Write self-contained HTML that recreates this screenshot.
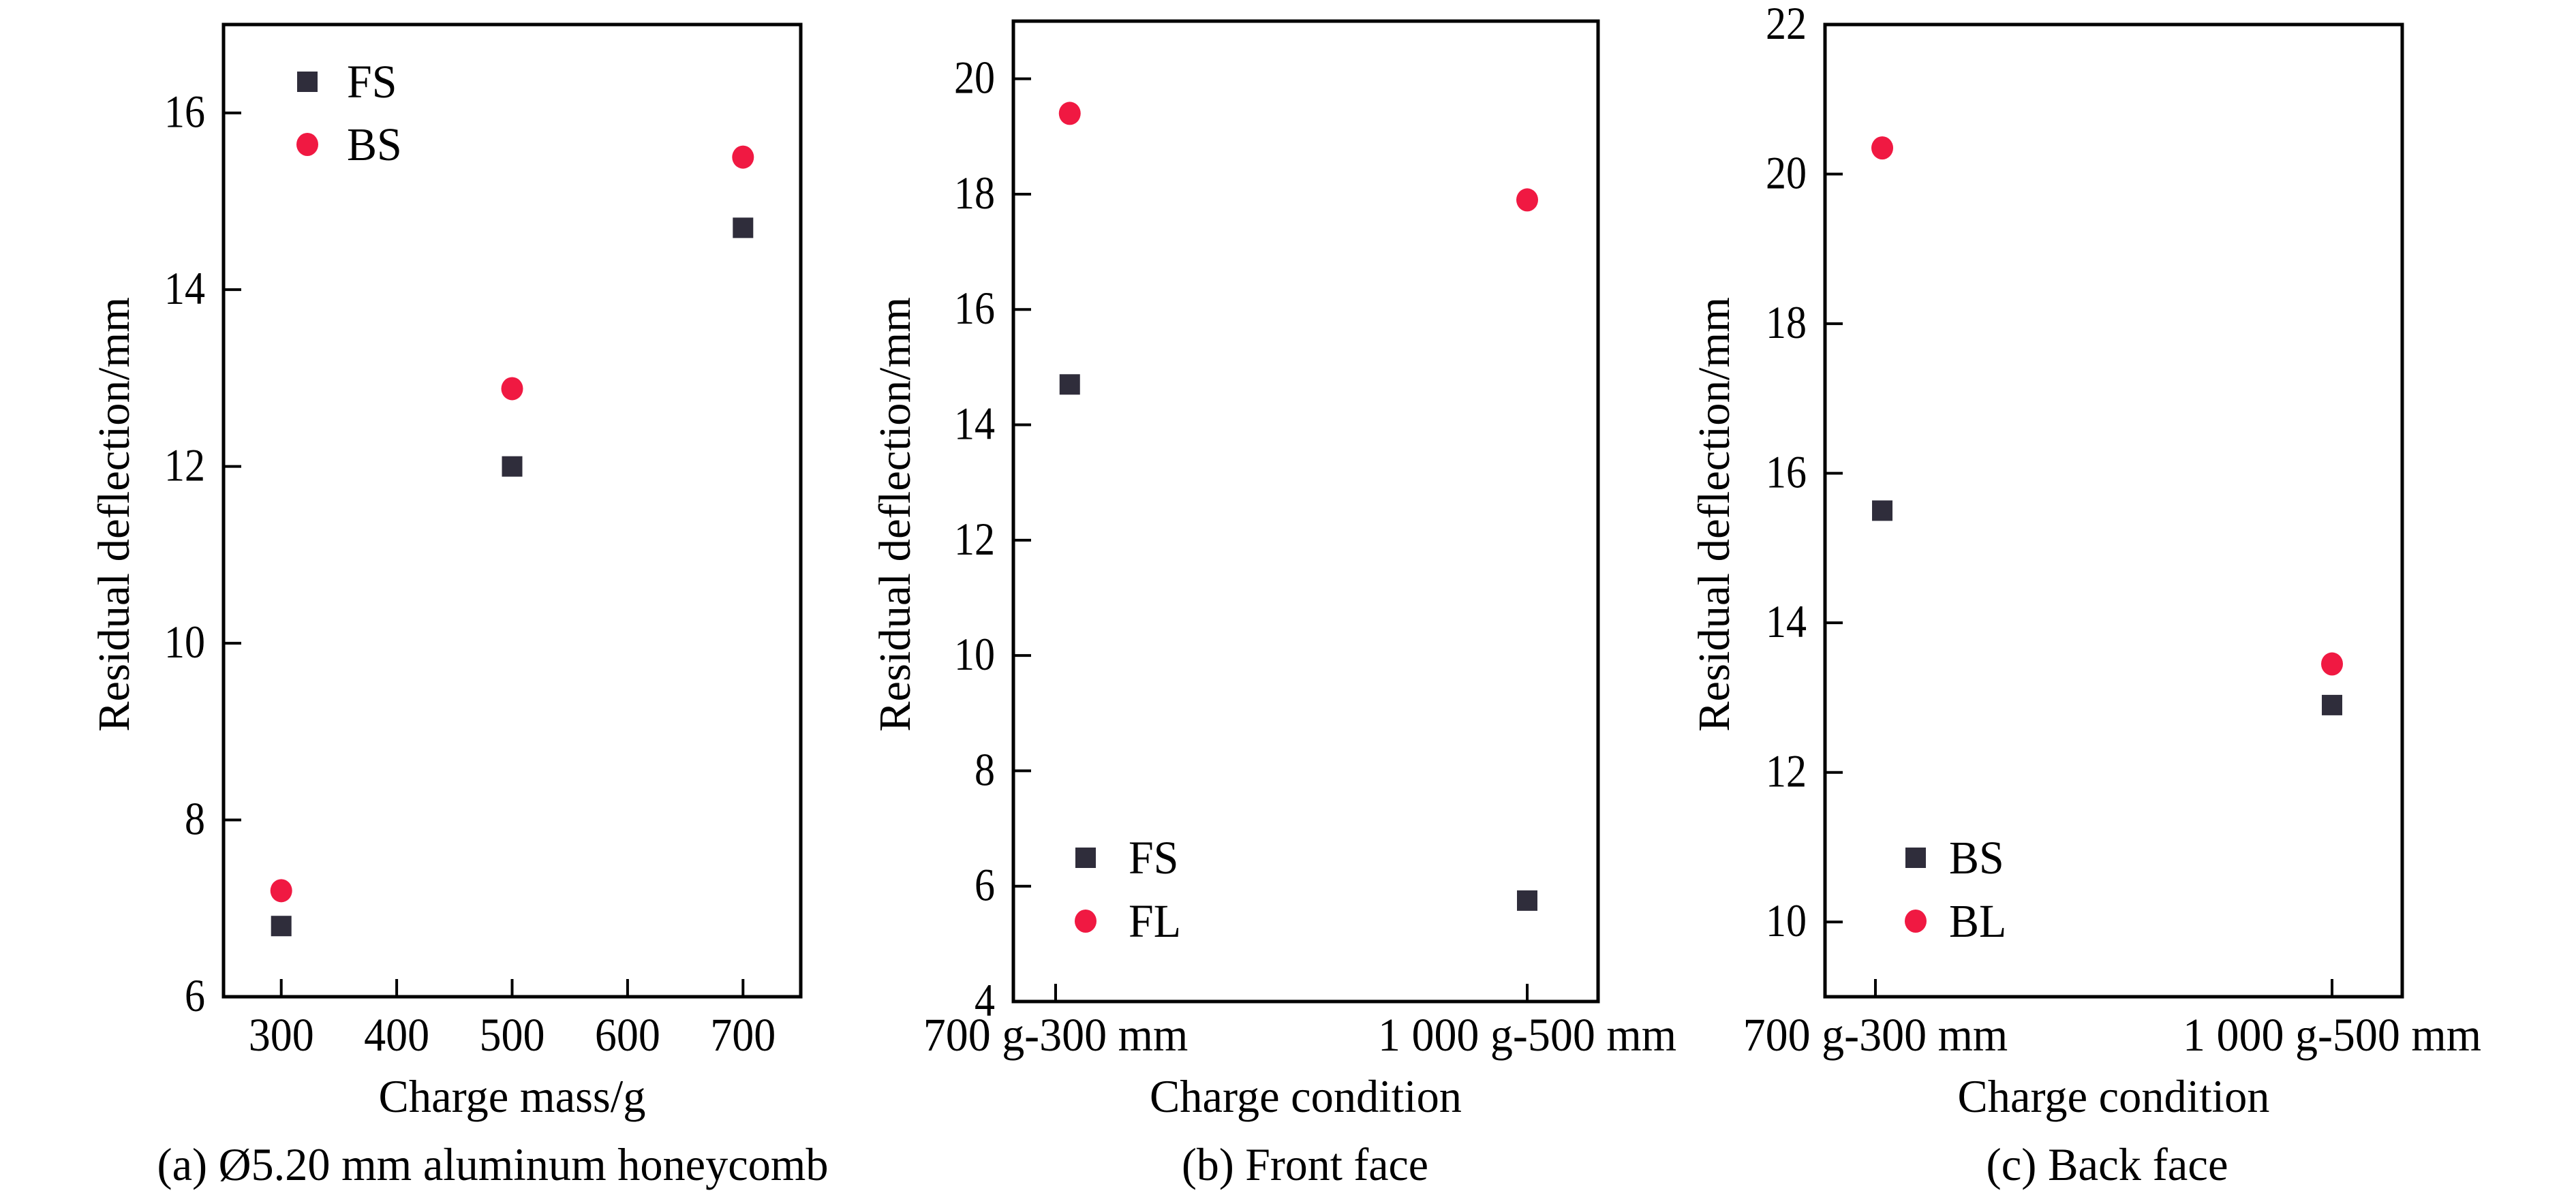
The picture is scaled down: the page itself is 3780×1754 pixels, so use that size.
<!DOCTYPE html>
<html><head><meta charset="utf-8"><style>
html,body{margin:0;padding:0;background:#fff;}
svg{display:block;}
svg text{font-family:"Liberation Serif","Times New Roman","Noto Serif CJK SC","DejaVu Serif",serif;}
</style></head><body>
<svg id="fig" width="3780" height="1754" viewBox="0 0 3780 1754" xmlns="http://www.w3.org/2000/svg"></svg>
<script>
// ---- Panel (a) data ----
const aX = [300, 500, 700];
const aFS = [6.8, 12.0, 14.7];
const aBS = [7.2, 12.88, 15.5];
const aXTicks = [300, 400, 500, 600, 700];
const aYTicks = [6, 8, 10, 12, 14, 16];
// ---- Panel (b) data ----
const bCats = ["700 g-300 mm", "1 000 g-500 mm"];
const bXPos = [0.03, 1];
const bFS = [14.7, 5.75];
const bFL = [19.4, 17.9];
const bYTicks = [4, 6, 8, 10, 12, 14, 16, 18, 20];
// ---- Panel (c) data ----
const cCats = ["700 g-300 mm", "1 000 g-500 mm"];
const cXPos = [0.015, 1];
const cBS = [15.5, 12.9];
const cBL = [20.35, 13.45];
const cYTicks = [10, 12, 14, 16, 18, 20, 22];

const NS = "http://www.w3.org/2000/svg";
const svg = document.getElementById("fig");
const SQ = "#2f2d3b", CI = "#f01942";
const FONT = '"Liberation Serif", "Times New Roman", "Noto Serif CJK SC", "DejaVu Serif", serif';

function mk(tag, attrs, parent) {
  const e = document.createElementNS(NS, tag);
  for (const k in attrs) e.setAttribute(k, attrs[k]);
  (parent || svg).appendChild(e);
  return e;
}
function txt(s, x, y, size, anchor, sy, parent, len) {
  const g = mk("g", {transform: "translate(" + x + "," + y + ") scale(1," + sy + ")"}, parent);
  const t = mk("text", {x: 0, y: 0, "font-size": size, "text-anchor": anchor, fill: "#000", "font-family": FONT}, g);
  if (len) { t.setAttribute("textLength", len); t.setAttribute("lengthAdjust", "spacingAndGlyphs"); }
  t.textContent = s;
  return {g: g, t: t};
}

function panel(cfg) {
  const g = mk("g", {});
  
  
  const xs = v => cfg.L + (v - cfg.x0) / (cfg.x1 - cfg.x0) * (cfg.R - cfg.L);
  const ys = v => cfg.B - (v - cfg.y0) / (cfg.y1 - cfg.y0) * (cfg.B - cfg.T);
  const fr = mk("rect", {x: cfg.L, y: cfg.T, width: cfg.R - cfg.L, height: cfg.B - cfg.T, fill: "none", stroke: "#000", "stroke-width": 5}, g);
  
  
  cfg.yTicks.forEach(v => {
    const y = ys(v);
    const l = mk("line", {x1: cfg.L, x2: cfg.L + 26, y1: y, y2: y, stroke: "#000", "stroke-width": 4}, g);
    
    
    const s = String(v);
    const t = txt(s, cfg.L - 27, y + 21, 63, "end", 1.08, g, s.length * 30);
    
    
  });
  cfg.xTicks.forEach((v, i) => {
    const x = xs(v);
    const l = mk("line", {x1: x, x2: x, y1: cfg.B, y2: cfg.B - 26, stroke: "#000", "stroke-width": 4}, g);
    
    
    const t = txt(cfg.xLabels[i], x, 1542, 66, "middle", 1.05, g, cfg.xLabelLen);
    
    
  });
  const xt = txt(cfg.xTitle, (cfg.L + cfg.R) / 2, 1632, 66, "middle", 1.03, g, cfg.xTitleLen);
  
  
  const cap = txt(cfg.caption, cfg.capX, 1732, 66, "middle", 1.03, g, cfg.capLen);
  
  
  const yt = mk("text", {x: 0, y: 0, "font-size": 66, "text-anchor": "middle", textLength: 638, lengthAdjust: "spacingAndGlyphs",
    "font-family": FONT, transform: "translate(" + cfg.yTitleX + ",755) rotate(-90)"}, g);
  yt.textContent = "Residual deflection/mm";
  
  
  cfg.series.forEach(s => {
    s.vals.forEach((v, i) => {
      const x = xs(s.xv[i]), y = ys(v);
      let m;
      if (s.shape === "sq") m = mk("rect", {x: x - 15, y: y - 15, width: 30, height: 30, fill: SQ}, g);
      else m = mk("ellipse", {cx: x, cy: y, rx: 16, ry: 17, fill: CI}, g);
      
      
    });
  });
  cfg.series.forEach((s, i) => {
    const ly = cfg.legY[i];
    let m;
    if (s.shape === "sq") m = mk("rect", {x: cfg.legX - 15, y: ly - 15, width: 30, height: 30, fill: SQ}, g);
    else m = mk("ellipse", {cx: cfg.legX, cy: ly, rx: 16, ry: 17, fill: CI}, g);
    
    
    const t = txt(s.label, cfg.legTX, ly + 23, 66, "start", 1.05, g);
    
    
  });
}

panel({name: "panel-a", L: 328, R: 1175, T: 36, B: 1463, x0: 250, x1: 750, y0: 6, y1: 17,
  yTicks: aYTicks, xTicks: aXTicks, xLabels: aXTicks.map(String), xLabelLen: 96,
  xTitle: "Charge mass/g", xTitleLen: 392, caption: "(a) Ø5.20 mm aluminum honeycomb", capX: 723, capLen: 985, yTitleX: 189,
  series: [{label: "FS", shape: "sq", xv: aX, vals: aFS}, {label: "BS", shape: "ci", xv: aX, vals: aBS}],
  legX: 451, legTX: 509, legY: [120, 212]});

panel({name: "panel-b", L: 1487, R: 2345, T: 31, B: 1470, x0: -0.0896, x1: 1.1503, y0: 4, y1: 21,
  yTicks: bYTicks, xTicks: [0, 1], xLabels: bCats,
  xTitle: "Charge condition", xTitleLen: 458, caption: "(b) Front face", capX: 1915, capLen: 362, yTitleX: 1335,
  series: [{label: "FS", shape: "sq", xv: bXPos, vals: bFS}, {label: "FL", shape: "ci", xv: bXPos, vals: bFL}],
  legX: 1593, legTX: 1656, legY: [1259, 1352]});

panel({name: "panel-c", L: 2678, R: 3525, T: 36, B: 1463, x0: -0.1104, x1: 1.1537, y0: 9, y1: 22,
  yTicks: cYTicks, xTicks: [0, 1], xLabels: cCats,
  xTitle: "Charge condition", xTitleLen: 458, caption: "(c) Back face", capX: 3092, capLen: 355, yTitleX: 2537,
  series: [{label: "BS", shape: "sq", xv: cXPos, vals: cBS}, {label: "BL", shape: "ci", xv: cXPos, vals: cBL}],
  legX: 2811, legTX: 2860, legY: [1259, 1352]});
</script>
</body></html>
